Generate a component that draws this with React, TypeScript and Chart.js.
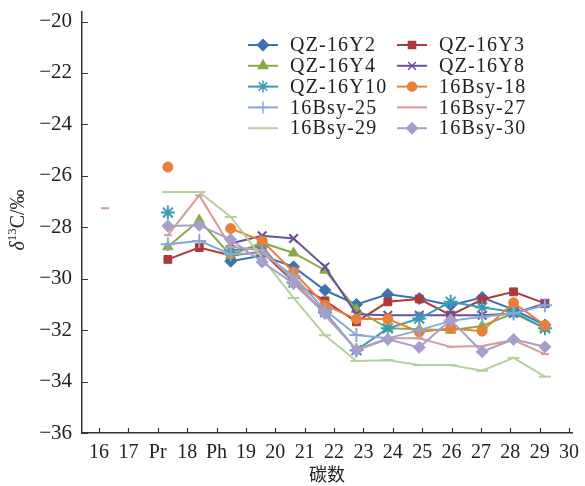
import React, { useEffect, useRef } from 'react';
import { Chart, registerables } from 'chart.js';
import { drawPoint } from 'chart.js/helpers';

Chart.register(...registerables);

// ---- data ----
const tickLabels = ['16', '17', 'Pr', '18', 'Ph', '19', '20', '21', '22', '23', '24', '25', '26', '27', '28', '29', '30'];
const dataCategories = ['16', '17', 'Pr', '18', 'Ph', '19', '20', '21', '22', '23', '24', '25', '26', '27', '28'];
const yTicks = [-36, -34, -32, -30, -28, -26, -24, -22, -20];

const qz16Y2 = [null, null, null, null, -29.32, -29.1, -29.54, -30.45, -31.0, -30.61, -30.77, -31.03, -30.73, -31.2, -31.8];
const qz16Y3 = [null, null, -29.25, -28.79, -29.1, -28.95, -30.13, -30.86, -31.68, -30.9, -30.79, -31.42, -30.81, -30.51, -30.96];
const qz16Y4 = [null, null, -28.76, -27.73, -29.09, -28.6, -29.0, -29.67, -31.2, -31.93, -31.97, -32.0, -31.84, -31.35, -31.93];
const qz16Y8 = [null, null, null, null, -28.63, -28.33, -28.44, -29.54, -31.38, -31.42, -31.42, -31.42, -31.42, -31.35, -30.96];
const qz16Y10 = [null, null, -27.43, null, -28.9, -28.76, -30.15, -31.3, -32.78, -31.93, -31.55, -30.9, -31.12, -31.29, -31.93];
const bsy18 = [null, null, -25.66, null, -28.05, -28.53, -29.74, -31.03, -31.57, -31.57, -32.07, -31.93, -32.04, -30.94, -31.81];
const bsy25 = [null, null, -28.66, -28.53, -29.05, -29.0, -29.9, -31.22, -32.19, -32.32, -32.0, -31.64, -31.48, -31.35, -31.03];
const bsy27 = [-27.26, null, -28.31, -26.76, -28.76, -28.9, -30.0, -31.42, -32.75, -32.32, -32.32, -32.65, -32.62, -32.39, -32.93];
const bsy29 = [null, null, -26.63, -26.63, -27.6, -29.2, -30.75, -32.2, -33.2, -33.17, -33.36, -33.36, -33.58, -33.08, -33.81];
const bsy30 = [null, null, -27.95, -27.92, -28.48, -29.35, -30.19, -31.35, -32.78, -32.36, -32.67, -31.61, -32.84, -32.36, -32.65];

const seriesNames = ['QZ-16Y2', 'QZ-16Y3', 'QZ-16Y4', 'QZ-16Y8', 'QZ-16Y10', '16Bsy-18', '16Bsy-25', '16Bsy-27', '16Bsy-29', '16Bsy-30'];
const seriesValues = [qz16Y2, qz16Y3, qz16Y4, qz16Y8, qz16Y10, bsy18, bsy25, bsy27, bsy29, bsy30];

// ---- styles ----
const seriesColors = ['#3a72b2', '#b0383c', '#8aaa48', '#6b4f9c', '#3c9bb4', '#e8803a', '#88a8d6', '#d89a9a', '#b4d09c', '#a69fcc'];
const seriesPointStyles = ['rectRot', 'rect', 'triangle', 'crossRot', 'star', 'circle', 'cross', 'line', 'line', 'rectRot'];
const seriesPointRadius = [6, 5.5, 6, 6, 7, 5, 7, 4, 6, 6];
const seriesLegendRadius = [5.5, 5, 5.5, 5.5, 6, 4.5, 6, 0, 0, 5.5];

const serif = "'Liberation Serif', 'Times New Roman', serif";

const yTitlePlugin = {
  id: 'yTitle',
  afterDraw(chart: any) {
    const ctx = chart.ctx;
    ctx.save();
    ctx.translate(19, 220);
    ctx.rotate(-Math.PI / 2);
    ctx.fillStyle = '#222';
    ctx.textBaseline = 'middle';
    const parts = [
      { t: 'δ', f: `italic 20px ${serif}`, dy: 0 },
      { t: '13', f: `13px ${serif}`, dy: -6 },
      { t: 'C/‰', f: `20px ${serif}`, dy: 0 },
    ];
    let total = 0;
    parts.forEach((p) => { ctx.font = p.f; total += ctx.measureText(p.t).width; });
    let x = -total / 2;
    ctx.textAlign = 'left';
    parts.forEach((p) => {
      ctx.font = p.f;
      ctx.fillText(p.t, x, p.dy);
      x += ctx.measureText(p.t).width;
    });
    ctx.restore();
  },
};

const tickMarkPlugin = {
  id: 'tickMarks',
  afterDraw(chart: any) {
    const { ctx, chartArea, scales } = chart;
    ctx.save();
    ctx.strokeStyle = '#333';
    ctx.lineWidth = 1.2;
    ctx.beginPath();
    scales.x.ticks.forEach((t: any) => {
      const px = Math.round(scales.x.getPixelForValue(t.value)) + 0.5;
      ctx.moveTo(px, chartArea.bottom);
      ctx.lineTo(px, chartArea.bottom - 5);
    });
    scales.y.ticks.forEach((t: any) => {
      const py = Math.round(scales.y.getPixelForValue(t.value)) + 0.5;
      ctx.moveTo(chartArea.left, py);
      ctx.lineTo(chartArea.left + 6, py);
    });
    ctx.stroke();
    ctx.restore();
  },
};

const legendPlugin = {
  id: 'customLegend',
  afterDraw(chart: any) {
    const ctx = chart.ctx;
    const colX = [248, 397];
    const rowY0 = 45;
    const rowH = 20.8;
    ctx.save();
    chart.data.datasets.forEach((ds: any, i: number) => {
      const col = i % 2;
      const row = Math.floor(i / 2);
      const x0 = colX[col];
      const y = rowY0 + row * rowH;
      ctx.strokeStyle = ds.borderColor;
      ctx.lineWidth = 2;
      ctx.beginPath();
      ctx.moveTo(x0, y);
      ctx.lineTo(x0 + 30, y);
      ctx.stroke();
      const r = seriesLegendRadius[i];
      if (r > 0) {
        ctx.fillStyle = ds.borderColor;
        ctx.strokeStyle = ds.borderColor;
        ctx.lineWidth = 1.5;
        drawPoint(ctx, { pointStyle: ds.pointStyle, rotation: 0, radius: r, borderWidth: 1.5 } as any, x0 + 15, y);
      }
      ctx.fillStyle = '#222';
      ctx.font = `20px ${serif}`;
      (ctx as any).letterSpacing = '1.2px';
      ctx.textAlign = 'left';
      ctx.textBaseline = 'middle';
      ctx.fillText(ds.label, x0 + 42, y + 1);
      (ctx as any).letterSpacing = '0px';
    });
    ctx.restore();
  },
};

export default function App() {
  const canvasRef = useRef<HTMLCanvasElement | null>(null);

  useEffect(() => {
    if (!canvasRef.current) return;
    const datasets = seriesNames.map((name, i) => ({
      label: name,
      data: seriesValues[i].map((v, k) => ({ x: k, y: v })),
      xAxisID: 'xd',
      yAxisID: 'y',
      borderColor: seriesColors[i],
      backgroundColor: seriesColors[i],
      borderWidth: 2,
      pointStyle: seriesPointStyles[i] as any,
      pointRadius: seriesPointRadius[i],
      pointBorderWidth: seriesPointStyles[i] === 'line' || seriesPointStyles[i].startsWith('cross') || seriesPointStyles[i] === 'star' ? 2 : 1,
      pointBackgroundColor: seriesColors[i],
      pointBorderColor: seriesColors[i],
      spanGaps: false,
      tension: 0,
      order: -i,
    }));

    const chart = new Chart(canvasRef.current, {
      type: 'line',
      data: { datasets },
      plugins: [yTitlePlugin, tickMarkPlugin, legendPlugin],
      options: {
        animation: false,
        responsive: true,
        maintainAspectRatio: false,
        layout: { padding: { top: 12, right: 13, left: 0, bottom: 0 } },
        plugins: {
          legend: { display: false },
          tooltip: { enabled: false },
          title: { display: false },
        },
        scales: {
          x: {
            type: 'linear',
            position: 'bottom',
            min: -0.579,
            max: 16.1,
            afterBuildTicks: (scale: any) => {
              scale.ticks = tickLabels.map((_, j) => ({ value: j }));
            },
            afterFit: (scale: any) => {
              scale.height = 53;
              scale.paddingLeft = 0;
              scale.paddingRight = 0;
            },
            ticks: {
              autoSkip: false,
              maxRotation: 0,
              minRotation: 0,
              padding: 8,
              color: '#222',
              font: { family: serif, size: 20 },
              callback: (v: any) => tickLabels[Math.round(Number(v))] ?? '',
            },
            grid: { display: true, drawOnChartArea: false, drawTicks: false },
            border: { display: true, color: '#333', width: 1.5 },
            title: {
              display: true,
              text: '碳数',
              color: '#222',
              font: { family: "'Noto Sans CJK SC', sans-serif", size: 18 },
              padding: { top: 0, bottom: 1 },
            },
          },
          xd: {
            type: 'linear',
            display: false,
            min: -0.732,
            max: 14.86,
          },
          y: {
            type: 'linear',
            min: -36,
            max: -19.63,
            afterBuildTicks: (scale: any) => {
              scale.ticks = yTicks.map((v) => ({ value: v }));
            },
            afterFit: (scale: any) => {
              scale.width = 82;
              scale.paddingTop = 0;
              scale.paddingBottom = 0;
            },
            ticks: {
              padding: 10,
              color: '#222',
              font: { family: serif, size: 21 },
              callback: (v: any) => String(v).replace('-', '−'),
            },
            grid: { display: true, drawOnChartArea: false, drawTicks: false },
            border: { display: true, color: '#333', width: 1.5 },
          },
        },
      },
    });
    return () => chart.destroy();
  }, []);

  return (
    <div style={{ position: 'fixed', left: 0, top: 0, width: 585, height: 486, background: '#fff' }}>
      <canvas ref={canvasRef} />
    </div>
  );
}
